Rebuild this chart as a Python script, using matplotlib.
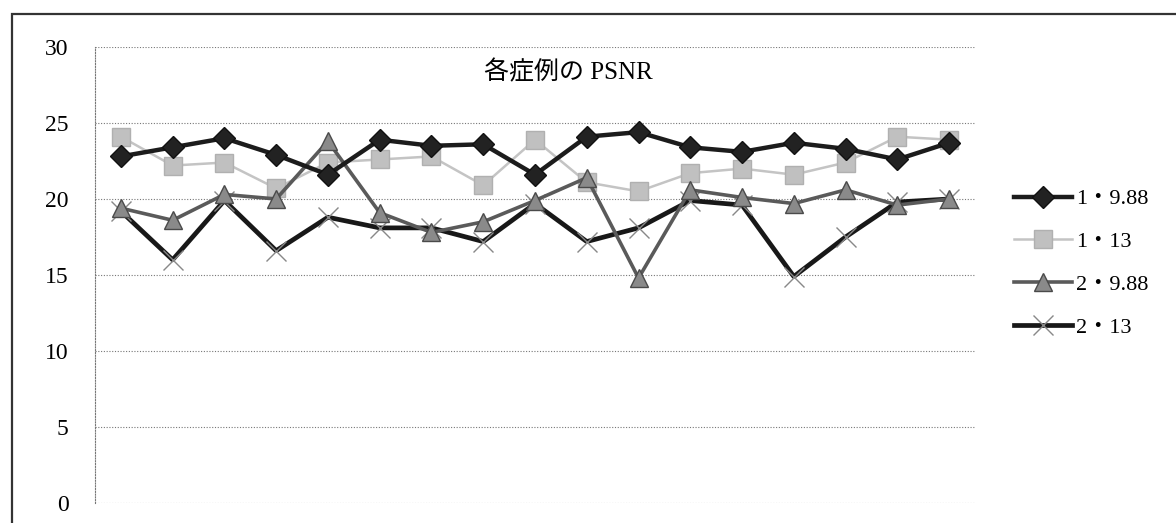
import matplotlib.pyplot as plt
from matplotlib.patches import Rectangle
from matplotlib.lines import Line2D

# 17 cases, PSNR values
cases = list(range(1, 18))
psnr_1_988 = [22.8, 23.4, 24.0, 22.9, 21.6, 23.9, 23.5, 23.6, 21.6, 24.1, 24.4, 23.4, 23.1, 23.7, 23.3, 22.6, 23.7]
psnr_1_13 = [24.1, 22.2, 22.4, 20.7, 22.4, 22.6, 22.8, 20.9, 23.9, 21.1, 20.5, 21.7, 22.0, 21.6, 22.4, 24.1, 23.9]
psnr_2_988 = [19.4, 18.6, 20.3, 20.0, 23.8, 19.1, 17.8, 18.5, 19.9, 21.4, 14.8, 20.6, 20.1, 19.7, 20.6, 19.6, 20.0]
psnr_2_13 = [19.2, 16.0, 19.9, 16.6, 18.8, 18.1, 18.1, 17.2, 19.7, 17.2, 18.1, 19.9, 19.6, 14.9, 17.5, 19.8, 20.0]
series_labels = ["1・9.88", "1・13", "2・9.88", "2・13"]
y_ticks = [0, 5, 10, 15, 20, 25, 30]

FONT = ["Liberation Serif", "Noto Sans CJK JP"]

fig = plt.figure(figsize=(11.76, 5.23), dpi=100)
fig.patches.append(Rectangle((12 / 1176, -0.05), 1.2, 1 - 14 / 523 + 0.05, transform=fig.transFigure,
                             fill=False, edgecolor="#333333", linewidth=1.6))

ax = fig.add_axes([95 / 1176, 1 - 503 / 523, 880 / 1176, 456 / 523])

styles = [
    dict(color="#1c1c1c", lw=3.2, marker="D", ms=11, mfc="#222222", mec="#111111", mew=1.0, zorder=5),
    dict(color="#c4c4c4", lw=1.8, marker="s", ms=13, mfc="#c0c0c0", mec="#b0b0b0", mew=1.0, zorder=3),
    dict(color="#5a5a5a", lw=2.6, marker="^", ms=13, mfc="#8a8a8a", mec="#4a4a4a", mew=1.0, zorder=4),
    dict(color="#181818", lw=3.4, marker="x", ms=15, mfc="none", mec="#888888", mew=1.0, zorder=2),
]
data = [psnr_1_988, psnr_1_13, psnr_2_988, psnr_2_13]
for values, style in zip(data, styles):
    ax.plot(cases, values, **style)

ax.set_xlim(0.5, 17.5)
ax.set_ylim(0, 30)
ax.set_yticks(y_ticks)
ax.set_yticklabels([str(t) for t in y_ticks], family=FONT, fontsize=17)
ax.tick_params(axis="y", length=0, pad=19)
ax.set_xticks([])
ax.grid(axis="y", color="#777777", linestyle=(0, (1, 1.5)), linewidth=0.8)
for side in ["top", "right", "bottom"]:
    ax.spines[side].set_visible(False)
ax.spines["left"].set_color("#777777")
ax.spines["left"].set_linestyle((0, (1, 1.5)))
ax.spines["left"].set_linewidth(0.8)

fig.text(568 / 1176, 1 - 72 / 523, "各症例の PSNR", family=FONT, fontsize=18, ha="center", va="center")

handles = [Line2D([], [], **{k: v for k, v in s.items() if k != "zorder"}) for s in styles]
leg = fig.legend(handles, series_labels, loc="upper left", bbox_to_anchor=(1005 / 1176, 1 - 180 / 523),
                 frameon=False, prop={"family": FONT, "size": 16}, handlelength=2.6,
                 handletextpad=0.2, labelspacing=1.0, borderaxespad=0)

fig.savefig("out.png", dpi=100)
